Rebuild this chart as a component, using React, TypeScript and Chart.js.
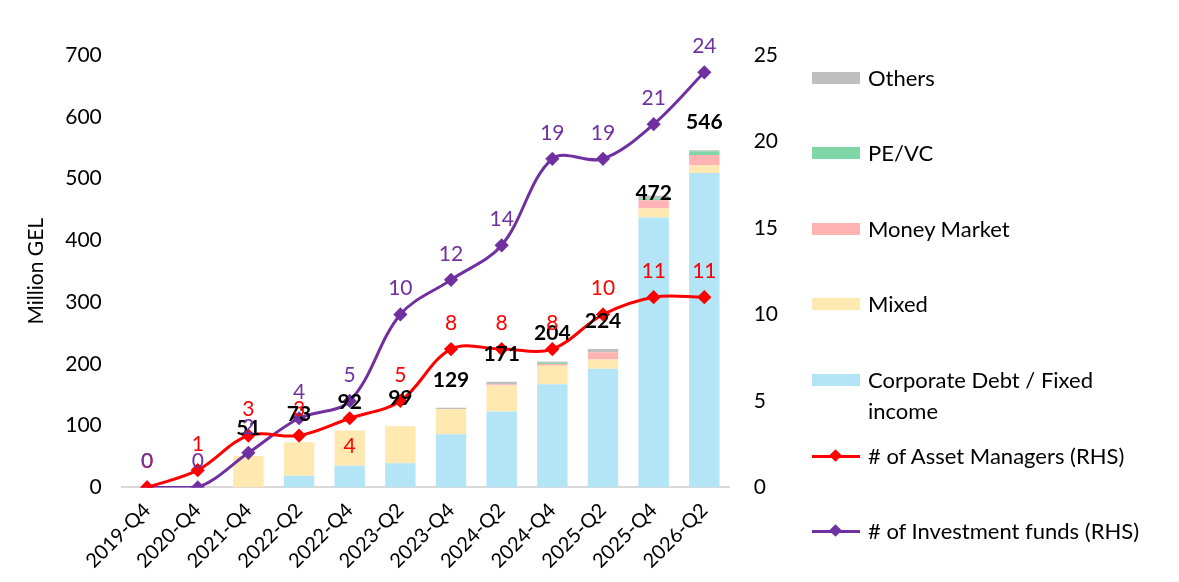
import React, { useEffect, useRef } from "react";
import { Chart, registerables } from "chart.js";
Chart.register(...registerables);

const categories = ["2019-Q4","2020-Q4","2021-Q4","2022-Q2","2022-Q4","2023-Q2","2023-Q4","2024-Q2","2024-Q4","2025-Q2","2025-Q4","2026-Q2"];
const corporate = [0,0,0,19,35,39,86,123,167,192,437,509];
const mixed = [0,0,51,54,57,60,41,42,30,15,15,12];
const moneyMarket = [0,0,0,0,0,0,0,2,3,12,13,17];
const peVc = [0,0,0,0,0,0,0,0,2,0,3,6];
const others = [0,0,0,0,0,0,2,4,2,5,4,2];
const totals = [0,0,51,73,92,99,129,171,204,224,472,546];
const assetManagers = [0,1,3,3,4,5,8,8,8,10,11,11];
const investmentFunds = [0,0,2,4,5,10,12,14,19,19,21,24];

const FONT = "Lato, 'Open Sans', sans-serif";
const legendItems = [
  { label: "Others", color: "#BFBFBF", type: "box" },
  { label: "PE/VC", color: "#7FD6A6", type: "box" },
  { label: "Money Market", color: "#FFB3B3", type: "box" },
  { label: "Mixed", color: "#FFE9B0", type: "box" },
  { label: "Corporate Debt / Fixed\nincome", color: "#B3E5F7", type: "box" },
  { label: "# of Asset Managers (RHS)", color: "#FF0000", type: "line" },
  { label: "# of Investment funds (RHS)", color: "#7030A0", type: "line" },
];
const legendY = [78, 153, 229, 304, 380, 456, 531];

const labelPlugin = {
  id: "labels",
  afterDatasetsDraw(chart: any) {
    const ctx = chart.ctx;
    ctx.save();
    ctx.textAlign = "center";
    ctx.textBaseline = "middle";
    const y = chart.scales.y;
    const x = chart.scales.x;
    ctx.font = `bold 21px ${FONT}`;
    ctx.fillStyle = "#000";
    totals.forEach((t, i) => {
      if (t <= 0) return;
      const off = i === 10 ? 3 : 28;
      ctx.fillText(String(t), x.getPixelForValue(i), y.getPixelForValue(t) - off);
    });
    const y2 = chart.scales.y2;
    ctx.font = `21px ${FONT}`;
    ctx.fillStyle = "#FF0000";
    assetManagers.forEach((v, i) => {
      const dy = i === 4 ? 28 : -26;
      ctx.fillText(String(v), x.getPixelForValue(i), y2.getPixelForValue(v) + dy);
    });
    ctx.fillStyle = "#7030A0";
    investmentFunds.forEach((v, i) => {
      ctx.fillText(String(v), x.getPixelForValue(i), y2.getPixelForValue(v) - 26);
    });
    ctx.restore();
  },
};

export default function App() {
  const ref = useRef<HTMLCanvasElement>(null);
  useEffect(() => {
    document.body.style.margin = "0";
    const bar = (label: string, data: number[], color: string) => ({
      type: "bar" as const, label, data, backgroundColor: color, yAxisID: "y",
      stack: "s", barPercentage: 0.6, categoryPercentage: 1, order: 2,
    });
    const line = (label: string, data: number[], color: string) => ({
      type: "line" as const, label, data, borderColor: color, backgroundColor: color,
      yAxisID: "y2", borderWidth: 3, pointStyle: "rectRot", pointRadius: 5,
      tension: 0.35, order: 1,
    });
    const chart = new Chart(ref.current!, {
      type: "bar",
      data: {
        labels: categories,
        datasets: [
          line("# of Asset Managers (RHS)", assetManagers, "#FF0000"),
          line("# of Investment funds (RHS)", investmentFunds, "#7030A0"),
          bar("Corporate Debt / Fixed income", corporate, "#B3E5F7"),
          bar("Mixed", mixed, "#FFE9B0"),
          bar("Money Market", moneyMarket, "#FFB3B3"),
          bar("PE/VC", peVc, "#7FD6A6"),
          bar("Others", others, "#BFBFBF"),
        ] as any,
      },
      options: {
        animation: false,
        responsive: false,
        layout: { padding: { top: 55, right: 385, left: 20, bottom: 6 } },
        plugins: { legend: { display: false }, tooltip: { enabled: false } },
        scales: {
          x: {
            stacked: true,
            grid: { display: false },
            border: { color: "#D9D9D9", width: 2 },
            ticks: { color: "#000", font: { family: FONT, size: 20 }, maxRotation: 45, minRotation: 45 },
          },
          y: {
            stacked: true, min: 0, max: 700,
            grid: { display: false }, border: { display: false },
            ticks: { stepSize: 100, color: "#000", font: { family: FONT, size: 21 }, padding: 12 },
            title: { display: true, text: "Million GEL", color: "#000", font: { family: FONT, size: 21 } },
          },
          y2: {
            position: "right", min: 0, max: 25,
            grid: { display: false }, border: { display: false },
            ticks: { stepSize: 5, color: "#000", font: { family: FONT, size: 21 }, padding: 16 },
          },
        },
      },
      plugins: [labelPlugin],
    });
    return () => chart.destroy();
  }, []);
  return (
    <div style={{ position: "relative", width: 1179, height: 582, background: "#fff" }}>
      <canvas ref={ref} width={1179} height={582} style={{ position: "absolute", left: 0, top: 0 }} />
      {legendItems.map((it, i) => (
        <div key={i} style={{ position: "absolute", left: 812, top: legendY[i] - 14, display: "flex", alignItems: "flex-start", fontFamily: FONT, fontSize: 22, color: "#000" }}>
          <div style={{ width: 48, height: 28, position: "relative", marginRight: 8 }}>
            {it.type === "box" ? (
              <div style={{ position: "absolute", left: 0, top: 8, width: 48, height: 12, background: it.color }} />
            ) : (
              <>
                <div style={{ position: "absolute", left: 0, top: 13, width: 48, height: 3, background: it.color }} />
                <div style={{ position: "absolute", left: 19, top: 9, width: 9, height: 9, background: it.color, transform: "rotate(45deg)" }} />
              </>
            )}
          </div>
          <div style={{ whiteSpace: "pre", lineHeight: "31px", marginTop: -2 }}>{it.label}</div>
        </div>
      ))}
    </div>
  );
}
